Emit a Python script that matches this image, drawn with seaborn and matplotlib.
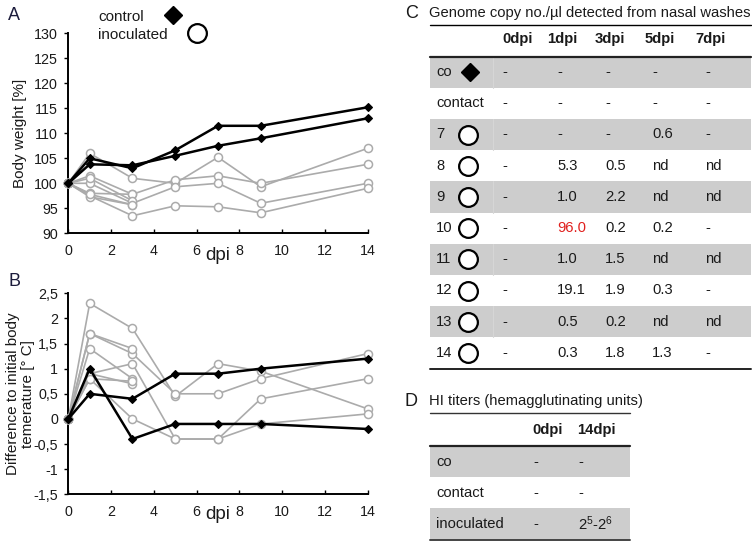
import matplotlib
matplotlib.use("Agg")
import matplotlib.pyplot as plt
import seaborn as sns
from matplotlib.patches import Rectangle

# ---------------- data ----------------
days = [0, 1, 3, 5, 7, 9, 14]

weight_control = [
    [100, 105.0, 103.0, 106.6, 111.5, 111.5, 115.2],
    [100, 103.8, 103.6, 105.5, 107.5, 109.0, 113.0],
]
weight_inoculated = [
    [100, 106.0, 101.0, 100.0, 105.2, 99.3, 107.0],
    [100, 101.5, 97.8, 100.7, 101.5, 100.0, 103.8],
    [100, 100.0, 96.0, 99.3, 100.0, 96.0, 100.0],
    [100, 97.5, 93.5, 95.5, 95.3, 94.1, 99.0],
    [100, 98.0, 97.8],
    [100, 97.3, 95.7],
    [100, 101.0, 96.5],
    [100, 97.8, 95.7],
]

temp_control = [
    [0, 1.0, -0.4, -0.1, -0.1, -0.1, -0.2],
    [0, 0.5, 0.4, 0.9, 0.9, 1.0, 1.2],
]
temp_inoculated = [
    [0, 2.3, 1.8, 0.45, 1.1, 0.95, 0.2],
    [0, 1.7, 1.3, 0.5, 0.5, 0.8, 1.3],
    [0, 0.9, 1.1, -0.4, -0.4, 0.4, 0.8],
    [0, 0.8, 0.0, -0.4, -0.4, -0.1, 0.1],
    [0, 1.7, 1.4],
    [0, 1.4, 0.8],
    [0, 0.9, 0.7],
    [0, 0.8, 0.75],
]

weight_ticks = [90, 95, 100, 105, 110, 115, 120, 125, 130]
temp_ticks = [-1.5, -1, -0.5, 0, 0.5, 1, 1.5, 2, 2.5]
x_ticks = [0, 2, 4, 6, 8, 10, 12, 14]

c_title = "Genome copy no./\u00b5l detected from nasal washes"
c_cols = ["0dpi", "1dpi", "3dpi", "5dpi", "7dpi"]
c_rows = ["co", "contact", "7", "8", "9", "10", "11", "12", "13", "14"]
c_marker = ["D", None, "o", "o", "o", "o", "o", "o", "o", "o"]
c_values = [
    ["-", "-", "-", "-", "-"],
    ["-", "-", "-", "-", "-"],
    ["-", "-", "-", "0.6", "-"],
    ["-", "5.3", "0.5", "nd", "nd"],
    ["-", "1.0", "2.2", "nd", "nd"],
    ["-", "96.0", "0.2", "0.2", "-"],
    ["-", "1.0", "1.5", "nd", "nd"],
    ["-", "19.1", "1.9", "0.3", "-"],
    ["-", "0.5", "0.2", "nd", "nd"],
    ["-", "0.3", "1.8", "1.3", "-"],
]

d_title = "HI titers (hemagglutinating units)"
d_cols = ["0dpi", "14dpi"]
d_rows = ["co", "contact", "inoculated"]
d_values = [
    ["-", "-"],
    ["-", "-"],
    ["-", r"2$^{\mathregular{5}}$-2$^{\mathregular{6}}$"],
]

# ---------------- style ----------------
sns.set_theme(style="white")
plt.rcParams["font.family"] = ["Liberation Sans", "DejaVu Sans"]
plt.rcParams["mathtext.fontset"] = "custom"
plt.rcParams["mathtext.rm"] = "Liberation Sans"
plt.rcParams["mathtext.it"] = "Liberation Sans"

GREY = "#ababab"
TXT = "#1a1a1a"

W, H = 752, 541
fig = plt.figure(figsize=(W / 100, H / 100), dpi=100)
fig.patch.set_facecolor("white")

def fig_rect(x0, y_top, x1, y_bot):
    return [x0 / W, 1 - y_bot / H, (x1 - x0) / W, (y_bot - y_top) / H]

axA = fig.add_axes(fig_rect(68.3, 33.3, 367.7, 233.3))
axB = fig.add_axes(fig_rect(68.3, 293.3, 367.7, 494.3))

def draw_panel(ax, control, inoculated):
    for vals in inoculated:
        sns.lineplot(x=days[:len(vals)], y=vals, ax=ax, color=GREY, lw=1.2,
                     marker="o", ms=5.8, mfc="white", mec=GREY, mew=1.1,
                     clip_on=False, zorder=3, estimator=None, legend=False)
    for vals in control:
        sns.lineplot(x=days[:len(vals)], y=vals, ax=ax, color="black", lw=1.8,
                     marker="D", ms=4.3, mfc="black", mec="black", mew=0.8,
                     clip_on=False, zorder=4, estimator=None, legend=False)
    ax.set_xlim(0, 14)
    ax.set_xticks(x_ticks)
    ax.set_xticklabels([str(t) for t in x_ticks])
    for s in ("top", "right"):
        ax.spines[s].set_visible(False)
    for s in ("left", "bottom"):
        ax.spines[s].set_color("black")
        ax.spines[s].set_linewidth(1.4)
    ax.tick_params(axis="y", direction="out", length=3, width=1.0,
                   labelsize=10.3, pad=4.5, colors="black", labelcolor=TXT, left=True)
    ax.tick_params(axis="x", direction="in", length=3, width=1.0,
                   labelsize=10.3, pad=8, colors="black", labelcolor=TXT, bottom=True)
    ax.set_facecolor("none")
    ax.grid(False)

draw_panel(axA, weight_control, weight_inoculated)
axA.set_ylim(90, 130)
axA.set_yticks(weight_ticks)
axA.set_yticklabels([str(t) for t in weight_ticks])
axA.set_ylabel("Body weight [%]", fontsize=11, color=TXT)
axA.yaxis.set_label_coords(-0.137, 0.5)
axA.set_xlabel("dpi", fontsize=13.5, color=TXT)
axA.xaxis.set_label_coords(0.5, -0.07)

draw_panel(axB, temp_control, temp_inoculated)
axB.set_ylim(-1.5, 2.5)
axB.set_yticks(temp_ticks)
axB.set_yticklabels([f"{t:g}".replace(".", ",") for t in temp_ticks])
axB.set_ylabel("Difference to initial body\ntemerature [\u00b0 C]", fontsize=11,
               color=TXT, linespacing=1.1)
axB.yaxis.set_label_coords(-0.112, 0.5)
axB.set_xlabel("dpi", fontsize=13.5, color=TXT)
axB.xaxis.set_label_coords(0.5, -0.06)

# ---------------- overlay (pixel coordinates) ----------------
ov = fig.add_axes([0, 0, 1, 1])
ov.set_xlim(0, W)
ov.set_ylim(H, 0)
ov.axis("off")
ov.set_zorder(5)

LETTER = "#1c1c3c"
ov.text(8, 16, "A", fontsize=13, color=LETTER, va="center", ha="left")
ov.text(8, 281, "B", fontsize=13, color=LETTER, va="center", ha="left")

# legend of panel A
ov.text(98, 17, "control", fontsize=11, color=TXT, va="center", ha="left")
ov.text(98, 35, "inoculated", fontsize=11, color=TXT, va="center", ha="left")
ov.plot([172.5], [15], marker="D", ms=9.5, color="black", mec="black", clip_on=False)
ov.plot([196.5], [33], marker="o", ms=13.5, mfc="white", mec="black", mew=1.6, clip_on=False)

# ---------------- table C ----------------
BAND = "#cdcdcd"
FS = 10.6
tx0, tx1 = 430, 751
ov.text(405, 13, "C", fontsize=13, color=TXT, va="center", ha="left")
ov.text(429, 13, c_title, fontsize=FS, color=TXT, va="center", ha="left")
ov.plot([tx0, tx1], [25, 25], color="black", lw=1.0)
c_col_x = [502, 547, 595, 645, 695]
c_val_x = [502, 557, 605, 652, 705]
for cx, name in zip(c_col_x, c_cols):
    ov.text(cx, 39, name, fontsize=FS, fontweight="bold", color=TXT, va="center", ha="left")
row_top = 56.5
row_h = 31.2
for i, (rname, mk, vals) in enumerate(zip(c_rows, c_marker, c_values)):
    y0 = row_top + i * row_h
    yc = y0 + row_h / 2
    if i % 2 == 0:
        ov.add_patch(Rectangle((tx0, y0), tx1 - tx0, row_h, facecolor=BAND,
                               edgecolor="none", zorder=0))
        ov.plot([493, 493], [y0, y0 + row_h], color="#d6d6d6", lw=0.8, zorder=1)
    ov.text(436, yc, rname, fontsize=FS, color=TXT, va="center", ha="left")
    if mk == "D":
        ov.plot([470], [yc], marker="D", ms=9.5, color="black", mec="black")
    elif mk == "o":
        ov.plot([468], [yc], marker="o", ms=13.5, mfc="white", mec="black", mew=1.6)
    for j, v in enumerate(vals):
        col = "#e0201e" if v == "96.0" else TXT
        ov.text(c_val_x[j], yc, v, fontsize=FS, color=col, va="center", ha="left")
ov.plot([tx0, tx1], [row_top, row_top], color="#222222", lw=1.6)
ov.plot([tx0, tx1], [row_top + len(c_rows) * row_h] * 2, color="#222222", lw=1.4)

# ---------------- table D ----------------
dx0, dx1 = 430, 630
ov.text(405, 401, "D", fontsize=13, color=TXT, va="center", ha="left")
ov.text(429, 401, d_title, fontsize=FS, color=TXT, va="center", ha="left")
ov.plot([dx0, dx1], [413.3, 413.3], color="#333333", lw=1.0)
d_col_x = [532, 577]
d_val_x = [533, 578]
for cx, name in zip(d_col_x, d_cols):
    ov.text(cx, 430, name, fontsize=FS, fontweight="bold", color=TXT, va="center", ha="left")
d_top = 446
for i, (rname, vals) in enumerate(zip(d_rows, d_values)):
    y0 = d_top + i * row_h
    yc = y0 + row_h / 2
    if i % 2 == 0:
        ov.add_patch(Rectangle((dx0, y0), dx1 - dx0, row_h, facecolor=BAND,
                               edgecolor="none", zorder=0))
    ov.text(436, yc, rname, fontsize=FS, color=TXT, va="center", ha="left")
    for j, v in enumerate(vals):
        ov.text(d_val_x[j], yc, v, fontsize=FS, color=TXT, va="center", ha="left")
ov.plot([dx0, dx1], [d_top, d_top], color="#222222", lw=1.6)
ov.plot([dx0, dx1], [d_top + len(d_rows) * row_h] * 2, color="#444444", lw=1.4)

fig.savefig("out.png", dpi=100, facecolor="white")
